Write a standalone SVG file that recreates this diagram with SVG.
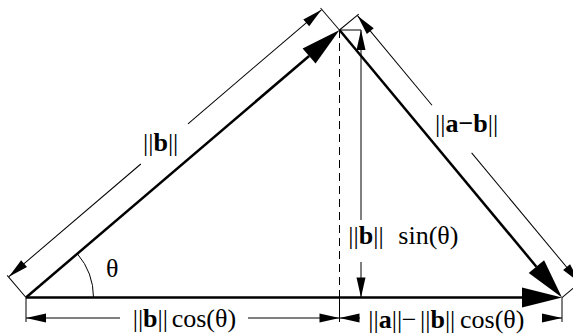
<svg xmlns="http://www.w3.org/2000/svg" width="573" height="334" viewBox="0 0 573 334">
<style>
  .vec{stroke:#000;stroke-width:2.5;fill:none}
  .dim{stroke:#000;stroke-width:1;fill:none}
  .dash{stroke:#000;stroke-width:1;fill:none;stroke-dasharray:8,5}
  .lbl{font-family:"Liberation Serif","Times New Roman",serif;font-size:26px;fill:#000}
  .b{font-weight:bold}
</style>
<defs>
  <marker id="big" markerUnits="userSpaceOnUse" markerWidth="42" markerHeight="22" refX="0" refY="0" orient="auto" overflow="visible">
    <path d="M40,0 L0,-10 L0,10 Z" fill="#000"/>
  </marker>
  <marker id="sm" markerUnits="userSpaceOnUse" markerWidth="22" markerHeight="10" refX="0" refY="0" orient="auto-start-reverse" overflow="visible">
    <path d="M0,0 L-20,-4.5 L-20,4.5 Z" fill="#000"/>
  </marker>
</defs>
<rect width="573" height="334" fill="#fff"/>

<g id="connectors">
  <line class="vec" x1="26" y1="297.5" x2="522" y2="297.5" marker-end="url(#big)"/>
  <line class="vec" x1="26" y1="297.5" x2="309.1" y2="56.0" marker-end="url(#big)"/>
  <line class="vec" x1="339.5" y1="30" x2="536.4" y2="266.7" marker-end="url(#big)"/>
  <line class="dash" x1="339.5" y1="30" x2="339.5" y2="297.5"/>
  <line class="dim" x1="339.5" y1="30" x2="361" y2="30"/>
  <line class="dim" x1="361" y1="30" x2="361" y2="220" marker-start="url(#sm)"/>
  <line class="dim" x1="361" y1="262" x2="361" y2="297.5" marker-end="url(#sm)"/>
  <path class="dim" d="M93.5,297.5 A67.5,67.5 0 0 0 77.3,253.7"/>
  <line class="dim" x1="26" y1="297.5" x2="26" y2="322"/>
  <line class="dim" x1="339.5" y1="297.5" x2="339.5" y2="322"/>
  <line class="dim" x1="562" y1="297.5" x2="562" y2="322"/>
  <line class="dim" x1="26" y1="318" x2="120" y2="318" marker-start="url(#sm)"/>
  <line class="dim" x1="248" y1="318" x2="339.5" y2="318" marker-end="url(#sm)"/>
  <line class="dim" x1="339.5" y1="318" x2="360" y2="318" marker-start="url(#sm)"/>
  <line class="dim" x1="542" y1="318" x2="562" y2="318" marker-end="url(#sm)"/>
  <g transform="translate(26,297.5) rotate(-40.48)">
    <line class="dim" x1="0" y1="0" x2="0" y2="-29"/>
    <line class="dim" x1="412" y1="0" x2="412" y2="-29"/>
    <line class="dim" x1="0.5" y1="-27" x2="174" y2="-27" marker-start="url(#sm)"/>
    <line class="dim" x1="236" y1="-27" x2="411.5" y2="-27" marker-end="url(#sm)"/>
  </g>
  <g transform="translate(339.5,30) rotate(50.25)">
    <line class="dim" x1="0" y1="0" x2="0" y2="-25"/>
    <line class="dim" x1="348" y1="0" x2="348" y2="-25"/>
    <line class="dim" x1="0.5" y1="-23" x2="117" y2="-23" marker-start="url(#sm)"/>
    <line class="dim" x1="179" y1="-23" x2="347.5" y2="-23" marker-end="url(#sm)"/>
  </g>
</g>

<g id="label-b"><text class="lbl" x="143" y="151">||<tspan class="b">b</tspan>||</text></g>
<g id="label-amb"><text class="lbl" x="435" y="132">||<tspan class="b">a−b</tspan>||</text></g>
<g id="label-theta"><text class="lbl" x="106" y="277">θ</text></g>
<g id="label-sin"><text class="lbl" x="348.3" y="244">||<tspan class="b">b</tspan>||</text><text class="lbl" x="398.3" y="244">sin(θ)</text></g>
<g id="label-cos"><text class="lbl" x="132.7" y="327">||<tspan class="b">b</tspan>||</text><text class="lbl" x="171.7" y="327">cos(θ)</text></g>
<g id="label-diff"><text class="lbl" x="368.3" y="328">||<tspan class="b">a</tspan>||</text><text class="lbl" x="401.7" y="328">−</text><text class="lbl" x="420" y="328">||<tspan class="b">b</tspan>||</text><text class="lbl" x="460" y="328">cos(θ)</text></g>
</svg>
